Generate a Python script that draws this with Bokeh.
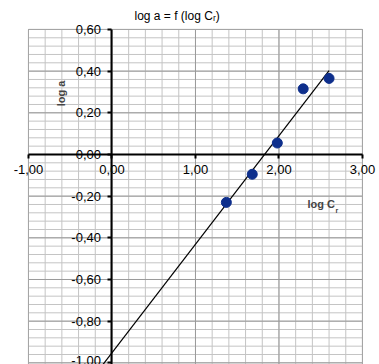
import numpy as np
from bokeh.plotting import figure
from bokeh.models import FixedTicker, CustomJSTickFormatter, Label, Range1d
from bokeh.embed import file_html
from bokeh.resources import INLINE

# data
log_c = [1.37, 1.68, 1.98, 2.29, 2.60]
log_a = [-0.23, -0.095, 0.055, 0.315, 0.365]
trend_range = [-0.2, 2.60]

x_major = [-1, 0, 1, 2, 3]
x_minor = [round(-1 + 0.2 * i, 2) for i in range(21)]
y_major = [round(-1.0 + 0.2 * i, 2) for i in range(9)]
y_minor = [round(-1.0 + 0.04 * i, 2) for i in range(41)]
x_bounds = (-1, 3)
y_bounds = (-1.02, 0.6)

FONT = "Liberation Sans"

# frame covers the whole canvas so that axis labels are not clipped
p = figure(width=379, height=364, output_backend="svg", toolbar_location=None,
           x_range=Range1d(-1.335, 3.204), y_range=Range1d(-1.008, 0.739),
           min_border_left=0, min_border_right=0, min_border_top=0, min_border_bottom=0)
p.outline_line_color = None
p.grid.visible = False

# plot-area grid (Excel style), limited to the axis bounds
def grid_lines(ticks, color, vertical):
    n = len(ticks)
    if vertical:
        p.segment(x0=ticks, x1=ticks, y0=[y_bounds[0]] * n, y1=[y_bounds[1]] * n,
                  line_color=color, line_width=1, level="underlay")
    else:
        p.segment(x0=[x_bounds[0]] * n, x1=[x_bounds[1]] * n, y0=ticks, y1=ticks,
                  line_color=color, line_width=1, level="underlay")

grid_lines(x_minor, "#c4c4c4", True)
grid_lines(y_minor, "#c4c4c4", False)
grid_lines(x_major, "#9a9a9a", True)
grid_lines(y_major, "#9a9a9a", False)
p.quad(left=[x_bounds[0]], right=[x_bounds[1]], bottom=[y_bounds[0]], top=[y_bounds[1]],
       fill_color=None, line_color="#a6a6a6", line_width=1, level="underlay")

fmt = CustomJSTickFormatter(code="return tick.toFixed(2).replace('.', ',');")

xa = p.xaxis[0]
xa.fixed_location = 0
xa.bounds = x_bounds
xa.ticker = FixedTicker(ticks=x_major)
xa.formatter = fmt
ya = p.yaxis[0]
ya.fixed_location = 0
ya.bounds = y_bounds
ya.ticker = FixedTicker(ticks=y_major)
ya.formatter = fmt
for a in (xa, ya):
    a.axis_line_color = "black"
    a.axis_line_width = 2
    a.major_tick_line_color = "black"
    a.major_tick_line_width = 2
    a.major_tick_in = 0
    a.major_tick_out = 4
    a.minor_tick_line_color = None
    a.major_label_text_font = FONT
    a.major_label_text_font_size = "13px"
    a.major_label_text_color = "black"
xa.major_label_standoff = 7
ya.major_label_standoff = 7

# trendline from least-squares fit
coef = np.polyfit(log_c, log_a, 1)
tx = np.array(trend_range)
p.line(tx, np.polyval(coef, tx), line_color="black", line_width=1.2)

p.scatter(log_c, log_a, size=10, fill_color="#0e2f8c", line_color="#0e2f8c")

# title and axis titles
p.add_layout(Label(x=134, y=342, x_units="screen", y_units="screen",
                   text="log a = f (log C\u1d63)", text_font=FONT, text_font_size="12px",
                   text_color="black"))
p.add_layout(Label(x=307, y=155, x_units="screen", y_units="screen", text="log C",
                   text_font=FONT, text_font_size="11px", text_font_style="bold"))
p.add_layout(Label(x=335, y=151, x_units="screen", y_units="screen", text="r",
                   text_font=FONT, text_font_size="7px", text_font_style="bold"))
p.add_layout(Label(x=60, y=271, x_units="screen", y_units="screen", text="log a",
                   angle=np.pi / 2, text_font=FONT, text_font_size="11px",
                   text_font_style="bold", text_align="center", text_baseline="middle"))

open("out.html", "w").write(file_html(p, INLINE))
